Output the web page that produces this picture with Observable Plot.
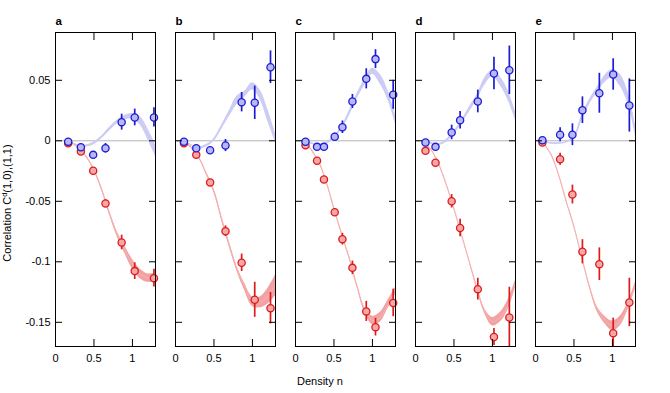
<!DOCTYPE html>
<html>
<head>
<meta charset="utf-8">
<script src="https://cdn.jsdelivr.net/npm/d3@7"></script>
<script src="https://cdn.jsdelivr.net/npm/@observablehq/plot@0.6"></script>
<style>
  html, body { margin: 0; padding: 0; background: white; }
</style>
</head>
<body>
<div id="chart"></div>
<script>
// ---------- data ----------
const panels = ["a", "b", "c", "d", "e"];
const yTicks = [-0.15, -0.1, -0.05, 0, 0.05];
const xTicks = [0, 0.5, 1];

// measured points (density n)
const ptX = [
  [0.165, 0.33, 0.49, 0.65, 0.86, 1.03, 1.28],
  [0.11, 0.27, 0.45, 0.65, 0.86, 1.03, 1.235],
  [0.13, 0.28, 0.37, 0.51, 0.61, 0.74, 0.92, 1.04, 1.27],
  [0.13, 0.26, 0.47, 0.58, 0.81, 1.02, 1.22],
  [0.09, 0.32, 0.48, 0.61, 0.83, 1.01, 1.22]
];
const blueY = [
  [-0.0008, -0.0053, -0.0116, -0.0061, 0.0154, 0.0193, 0.0193],
  [-0.0008, -0.0061, -0.0078, -0.0039, 0.0319, 0.0314, 0.0608],
  [-0.0008, -0.005, -0.005, 0.0033, 0.0112, 0.0325, 0.0512, 0.0675, 0.038],
  [-0.0014, -0.005, 0.0069, 0.017, 0.0325, 0.0556, 0.0583],
  [0.0005, 0.005, 0.005, 0.0253, 0.0393, 0.0548, 0.0292]
];
const blueErr = [
  [0.001, 0.002, 0.002, 0.0039, 0.0066, 0.0069, 0.008],
  [0.001, 0.002, 0.002, 0.005, 0.008, 0.0138, 0.0135],
  [0.001, 0.001, 0.001, 0.003, 0.0052, 0.0058, 0.0083, 0.0078, 0.012],
  [0.001, 0.002, 0.006, 0.0073, 0.0094, 0.0135, 0.02],
  [0.001, 0.0058, 0.009, 0.011, 0.0165, 0.013, 0.022]
];
const redY = [
  [-0.002, -0.0088, -0.0248, -0.0518, -0.084, -0.1077, -0.1135],
  [-0.002, -0.0116, -0.0344, -0.0747, -0.1008, -0.1314, -0.1383],
  [-0.0036, -0.0165, -0.032, -0.059, -0.0813, -0.105, -0.141, -0.154, -0.134],
  [-0.0083, -0.0182, -0.05, -0.072, -0.1226, -0.1622, -0.146],
  [-0.0014, -0.0152, -0.0444, -0.0917, -0.102, -0.159, -0.1336]
];
const redErr = [
  [0.001, 0.002, 0.002, 0.003, 0.006, 0.0069, 0.0074],
  [0.001, 0.002, 0.002, 0.0044, 0.0072, 0.0145, 0.013],
  [0.001, 0.001, 0.001, 0.003, 0.0048, 0.0056, 0.0083, 0.0073, 0.0114],
  [0.001, 0.002, 0.0055, 0.0072, 0.009, 0.007, 0.025],
  [0.001, 0.005, 0.0078, 0.01, 0.0135, 0.0124, 0.02]
];

// theory bands
const bandX = [
  [0.17, 0.3, 0.4, 0.5, 0.6, 0.7, 0.8, 0.9, 1.0, 1.1, 1.2, 1.3],
  [0.11, 0.2, 0.3, 0.4, 0.5, 0.6, 0.7, 0.8, 0.9, 1.0, 1.1, 1.2, 1.3],
  [0.13, 0.2, 0.3, 0.4, 0.5, 0.6, 0.7, 0.8, 0.9, 1.0, 1.1, 1.2, 1.3],
  [0.13, 0.2, 0.3, 0.4, 0.5, 0.6, 0.7, 0.8, 0.9, 1.0, 1.1, 1.2, 1.3],
  [0.09, 0.2, 0.3, 0.4, 0.5, 0.6, 0.7, 0.8, 0.9, 1.0, 1.1, 1.2, 1.3]
];
const blueLo = [
  [0, -0.0045, -0.005, -0.003, 0.002, 0.008, 0.014, 0.017, 0.018, 0.013, 0.001, -0.013],
  [0, -0.004, -0.0065, -0.005, 0.0, 0.01, 0.02, 0.03, 0.036, 0.042, 0.034, 0.016, -0.001],
  [0, -0.0025, -0.0035, -0.0025, 0.002, 0.01, 0.021, 0.035, 0.046, 0.055, 0.047, 0.034, 0.014],
  [0, -0.0025, -0.0035, -0.001, 0.006, 0.015, 0.024, 0.034, 0.046, 0.053, 0.046, 0.034, 0.017],
  [0, -0.0025, -0.0025, -0.0015, 0.002, 0.017, 0.03, 0.04, 0.048, 0.052, 0.045, 0.031, 0.004]
];
const blueHi = [
  [0, -0.0035, -0.0035, -0.001, 0.004, 0.011, 0.017, 0.021, 0.0225, 0.02, 0.01, -0.003],
  [0, -0.003, -0.005, -0.003, 0.002, 0.013, 0.025, 0.037, 0.041, 0.048, 0.042, 0.026, 0.006],
  [0, -0.0015, -0.0025, -0.0015, 0.004, 0.012, 0.025, 0.039, 0.051, 0.06, 0.055, 0.042, 0.021],
  [0, -0.0015, -0.0025, 0.001, 0.008, 0.017, 0.028, 0.038, 0.052, 0.058, 0.053, 0.042, 0.024],
  [0, -0.0015, -0.0015, -0.0005, 0.004, 0.021, 0.034, 0.044, 0.054, 0.059, 0.055, 0.041, 0.012]
];
const redLo = [
  [0, -0.0065, -0.0135, -0.025, -0.041, -0.061, -0.079, -0.093, -0.106, -0.114, -0.117, -0.116],
  [0, -0.006, -0.014, -0.028, -0.043, -0.066, -0.088, -0.108, -0.124, -0.137, -0.138, -0.135, -0.128],
  [-0.0015, -0.0075, -0.0175, -0.0345, -0.0565, -0.0775, -0.098, -0.121, -0.142, -0.152, -0.15, -0.139, -0.127],
  [-0.003, -0.0075, -0.0195, -0.0365, -0.0565, -0.0785, -0.1005, -0.123, -0.143, -0.153, -0.15, -0.14, -0.121],
  [-0.0015, -0.0115, -0.0285, -0.0505, -0.0715, -0.0965, -0.121, -0.141, -0.151, -0.157, -0.153, -0.14, -0.121]
];
const redHi = [
  [0, -0.0055, -0.0125, -0.023, -0.039, -0.058, -0.075, -0.087, -0.098, -0.106, -0.11, -0.109],
  [0, -0.005, -0.013, -0.026, -0.04, -0.063, -0.084, -0.104, -0.118, -0.129, -0.129, -0.122, -0.111],
  [-0.0005, -0.0065, -0.0165, -0.0335, -0.0555, -0.0765, -0.096, -0.119, -0.138, -0.145, -0.142, -0.132, -0.121],
  [-0.002, -0.0065, -0.0185, -0.0355, -0.0555, -0.0775, -0.0995, -0.121, -0.139, -0.146, -0.142, -0.132, -0.115],
  [-0.0005, -0.0105, -0.0275, -0.0495, -0.0705, -0.0955, -0.119, -0.137, -0.145, -0.149, -0.145, -0.134, -0.117]
];

// ---------- tables ----------
const points = (vals, errs, s) => panels.flatMap((p, i) =>
  ptX[i].map((x, j) => ({panel: p, s, x, y: vals[i][j], e: errs[i][j]})));
const redPts = points(redY, redErr, "red");
const bluePts = points(blueY, blueErr, "blue");
const bands = (lo, hi, s) => panels.flatMap((p, i) =>
  bandX[i].map((x, j) => ({panel: p, s, x, lo: lo[i][j], hi: hi[i][j], mid: (lo[i][j] + hi[i][j]) / 2})));
const redBand = bands(redLo, redHi, "red");
const blueBand = bands(blueLo, blueHi, "blue");

const C = {
  blueStroke: "#1c1cd6", blueFill: "#b8b8f2", blueBand: "#ccccf4",
  redStroke: "#de1a1a", redFill: "#f5a8a8", redBand: "#f2a2a2", redLine: "#f5b0b0"
};
const curve = "catmull-rom";
const noText = () => "";

const chart = Plot.plot({
  width: 670,
  height: 393,
  marginLeft: 54,
  marginRight: 34,
  marginTop: 32,
  marginBottom: 47,
  style: {fontFamily: "'Liberation Sans', Arial, sans-serif", fontSize: "11px", background: "white", color: "black"},
  fx: {domain: panels, paddingInner: 0.163, paddingOuter: 0, axis: null, label: null},
  x: {domain: [0, 1.3], label: null},
  y: {domain: [-0.17, 0.0895], label: null},
  marks: [
    Plot.ruleY([0], {stroke: "#b4b4b4", strokeWidth: 1}),
    Plot.areaY(blueBand, {fx: "panel", x: "x", y1: "lo", y2: "hi", fill: C.blueBand, curve}),
    Plot.line(blueBand, {fx: "panel", x: "x", y: "mid", stroke: C.blueBand, strokeWidth: 1.2, curve}),
    Plot.areaY(redBand, {fx: "panel", x: "x", y1: "lo", y2: "hi", fill: C.redBand, curve}),
    Plot.line(redBand, {fx: "panel", x: "x", y: "mid", stroke: C.redLine, strokeWidth: 1.1, curve}),
    Plot.ruleX(redPts, {fx: "panel", x: "x", y1: d => d.y - d.e, y2: d => d.y + d.e, stroke: C.redStroke, strokeWidth: 1.7, clip: true}),
    Plot.dot(redPts, {fx: "panel", x: "x", y: "y", r: 3.6, fill: C.redFill, stroke: C.redStroke, strokeWidth: 1.3}),
    Plot.ruleX(bluePts, {fx: "panel", x: "x", y1: d => d.y - d.e, y2: d => d.y + d.e, stroke: C.blueStroke, strokeWidth: 1.7, clip: true}),
    Plot.dot(bluePts, {fx: "panel", x: "x", y: "y", r: 3.6, fill: C.blueFill, stroke: C.blueStroke, strokeWidth: 1.3}),
    Plot.frame({stroke: "black", strokeWidth: 1}),
    // y labels (first panel only)
    Plot.axisY({anchor: "left", ticks: yTicks, tickFormat: d => String(d), tickSize: 0, tickPadding: 5, label: null}),
    // inward ticks on every panel
    Plot.axisY({anchor: "left", ticks: yTicks, tickFormat: noText, tickSize: -7, facetAnchor: null, label: null}),
    Plot.axisY({anchor: "right", ticks: yTicks, tickFormat: noText, tickSize: -7, facetAnchor: null, label: null}),
    Plot.axisX({anchor: "bottom", ticks: xTicks, tickFormat: d => String(d), tickSize: -7, tickPadding: 15, facetAnchor: null, label: null}),
    Plot.axisX({anchor: "top", ticks: xTicks, tickFormat: noText, tickSize: -7, facetAnchor: null, label: null}),
    // panel letters
    Plot.text(panels, {fx: d => d, text: d => d, frameAnchor: "top-left", textAnchor: "start", lineAnchor: "bottom", dy: -8, fontWeight: "bold", fontSize: 11.5})
  ]
});

const svg = d3.select(chart);
const yl = svg.append("text")
  .attr("transform", "translate(11,203) rotate(-90)")
  .attr("text-anchor", "middle")
  .attr("font-family", "'Liberation Sans', Arial, sans-serif")
  .attr("font-size", 11)
  .attr("fill", "black");
yl.append("tspan").text("Correlation C");
yl.append("tspan").attr("dy", -4).attr("font-size", 7.5).text("d");
yl.append("tspan").attr("dy", 4).text("(1,0),(1,1)");

svg.append("text")
  .attr("x", 297).attr("y", 384.5)
  .attr("text-anchor", "start")
  .attr("font-family", "'Liberation Sans', Arial, sans-serif")
  .attr("font-size", 11)
  .attr("fill", "black")
  .text("Density n");

document.getElementById("chart").appendChild(chart);
</script>
</body>
</html>
